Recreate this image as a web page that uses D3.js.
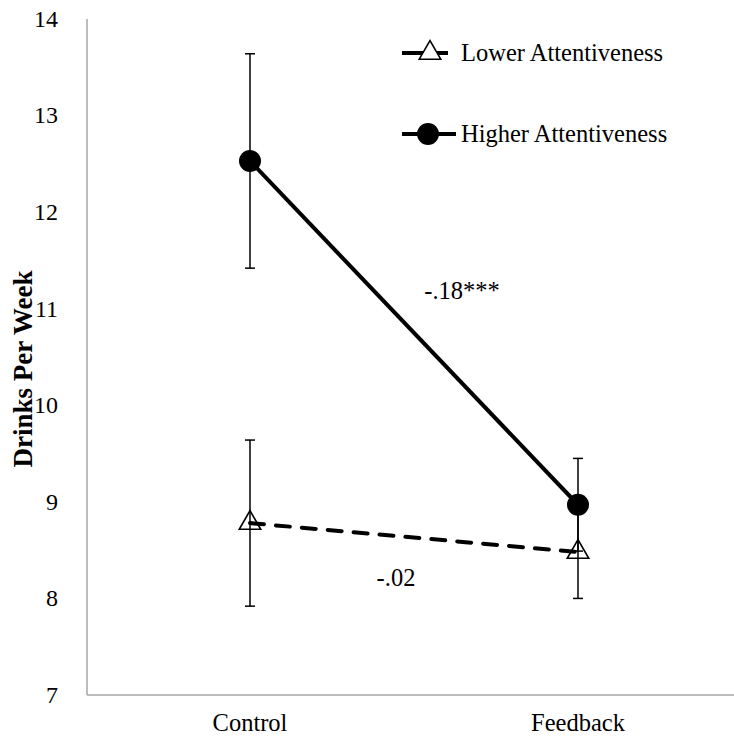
<!DOCTYPE html>
<html>
<head>
<meta charset="utf-8">
<script src="https://cdn.jsdelivr.net/npm/d3@7"></script>
<style>
  body { margin: 0; background: #fff; }
</style>
</head>
<body>
<div id="chart"></div>
<script>
// chart values
const groups = ['Control', 'Feedback'];
const lowerMeans = [8.78, 8.48];
const lowerErr = [0.86, 0.48];
const higherMeans = [12.53, 8.97];
const higherErr = [1.11, 0.48];
const yTicks = [7, 8, 9, 10, 11, 12, 13, 14];
const slopeLabels = ['-.18***', '-.02'];

const width = 734;
const height = 743;
const serif = 'Liberation Serif';

const svg = d3.select('#chart')
  .append('svg')
  .attr('width', width)
  .attr('height', height)
  .attr('font-family', serif)
  .style('display', 'block');

// the category axis runs past the right edge of the picture
const x = d3.scaleBand().domain(groups).range([86, 742]);
const y = d3.scaleLinear().domain([7, 14]).range([695, 19]);
const cx = (g) => x(g) + x.bandwidth() / 2;

// axes
svg.append('line')
  .attr('x1', 87).attr('x2', 87)
  .attr('y1', y(14)).attr('y2', y(7))
  .attr('stroke', '#a6a6a6').attr('stroke-width', 1.5);
svg.append('line')
  .attr('x1', 87).attr('x2', 742)
  .attr('y1', y(7)).attr('y2', y(7))
  .attr('stroke', '#a6a6a6').attr('stroke-width', 1.5);

svg.selectAll('.ytick')
  .data(yTicks)
  .join('text')
  .attr('class', 'ytick')
  .attr('x', 58)
  .attr('y', (d) => y(d))
  .attr('dy', '0.33em')
  .attr('text-anchor', 'end')
  .attr('font-size', 24)
  .text((d) => d);

svg.selectAll('.xtick')
  .data(groups)
  .join('text')
  .attr('class', 'xtick')
  .attr('x', (d) => cx(d))
  .attr('y', 731)
  .attr('text-anchor', 'middle')
  .attr('font-size', 24.5)
  .text((d) => d);

svg.append('text')
  .attr('transform', 'translate(32,369) rotate(-90)')
  .attr('text-anchor', 'middle')
  .attr('font-size', 27)
  .attr('font-weight', 'bold')
  .text('Drinks Per Week');

// series
const series = [
  { name: 'Lower Attentiveness', means: lowerMeans, err: lowerErr, dash: '14,12', marker: 'triangle' },
  { name: 'Higher Attentiveness', means: higherMeans, err: higherErr, dash: null, marker: 'circle' },
];

const line = d3.line()
  .x((d, i) => cx(groups[i]))
  .y((d) => y(d));

const triangle = d3.symbol().type(d3.symbolTriangle).size(200);

function drawMarker(sel, s, px, py, fill) {
  if (s.marker === 'circle') {
    sel.append('circle')
      .attr('cx', px).attr('cy', py).attr('r', 11)
      .attr('fill', '#000');
  } else {
    sel.append('path')
      .attr('d', triangle())
      .attr('transform', `translate(${px},${py})`)
      .attr('fill', fill)
      .attr('stroke', '#000')
      .attr('stroke-width', 1.6);
  }
}

series.forEach((s) => {
  const g = svg.append('g');
  // error bars
  s.means.forEach((m, i) => {
    const px = cx(groups[i]);
    const top = y(m + s.err[i]);
    const bot = y(m - s.err[i]);
    g.append('line')
      .attr('x1', px).attr('x2', px).attr('y1', top).attr('y2', bot)
      .attr('stroke', '#000').attr('stroke-width', 1.5);
    [top, bot].forEach((cy) => {
      g.append('line')
        .attr('x1', px - 5).attr('x2', px + 5).attr('y1', cy).attr('y2', cy)
        .attr('stroke', '#000').attr('stroke-width', 1.5);
    });
  });
  g.append('path')
    .datum(s.means)
    .attr('d', line)
    .attr('fill', 'none')
    .attr('stroke', '#000')
    .attr('stroke-width', 4)
    .attr('stroke-linecap', s.dash ? 'round' : 'butt')
    .attr('stroke-dasharray', s.dash);
  s.means.forEach((m, i) => drawMarker(g, s, cx(groups[i]), y(m), 'none'));
});

// slope annotations
svg.append('text')
  .attr('x', 462).attr('y', 299)
  .attr('text-anchor', 'middle')
  .attr('font-size', 24.5)
  .text(slopeLabels[0]);
svg.append('text')
  .attr('x', 396).attr('y', 586)
  .attr('text-anchor', 'middle')
  .attr('font-size', 24.5)
  .text(slopeLabels[1]);

// legend
const legend = svg.append('g');
const legendY = [53, 134];
series.forEach((s, i) => {
  const ly = legendY[i];
  const x2 = s.dash ? 448 : 456;
  legend.append('line')
    .attr('x1', 402).attr('x2', x2).attr('y1', ly).attr('y2', ly)
    .attr('stroke', '#000').attr('stroke-width', 4);
  drawMarker(legend, s, s.dash ? 430 : 428, ly, '#fff');
  legend.append('text')
    .attr('x', 461).attr('y', ly)
    .attr('dy', '0.33em')
    .attr('font-size', 24.5)
    .text(s.name);
});
</script>
</body>
</html>
